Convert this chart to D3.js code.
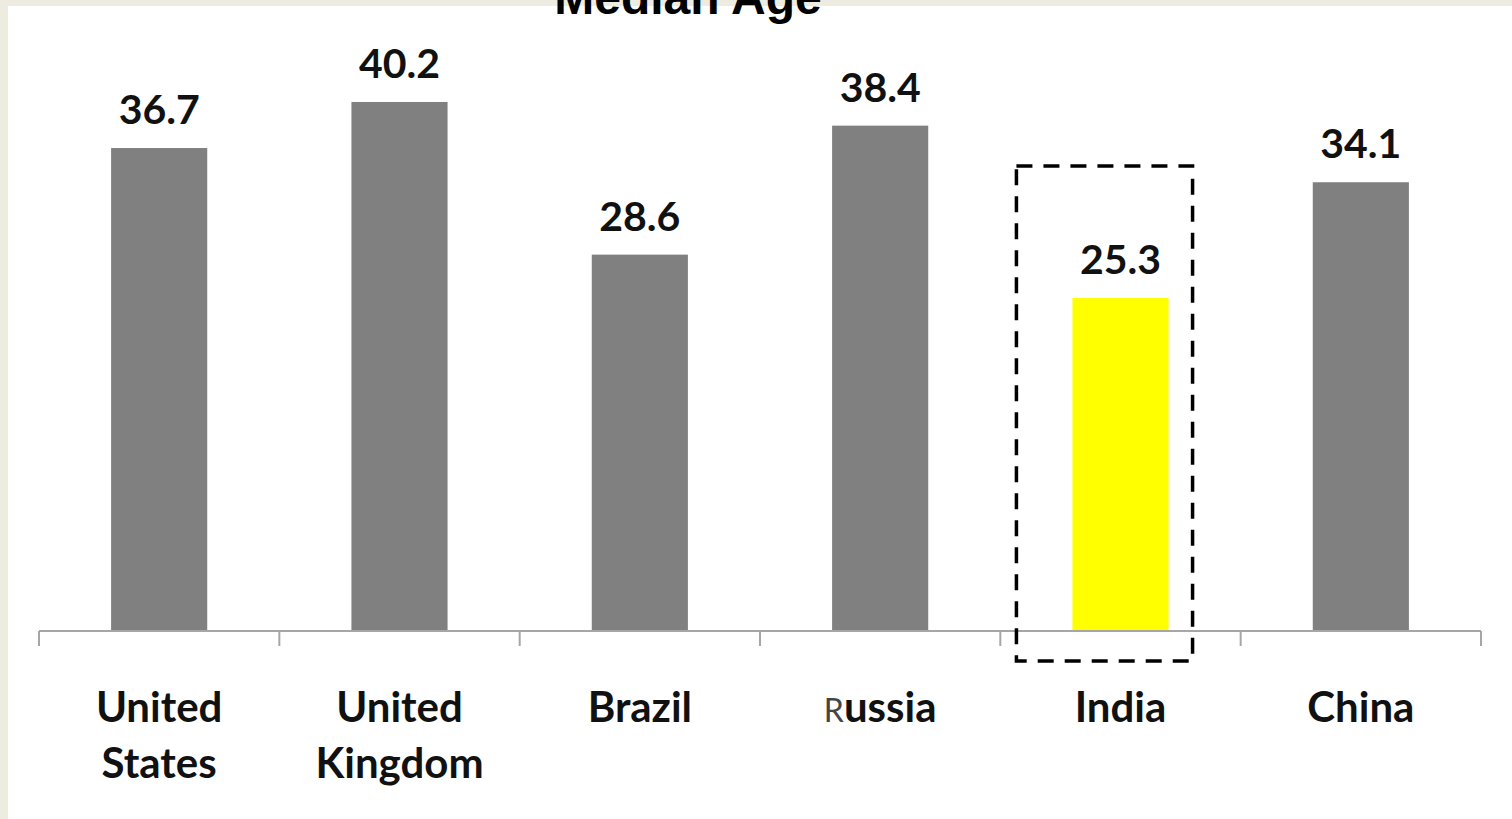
<!DOCTYPE html>
<html>
<head>
<meta charset="utf-8">
<script src="https://cdn.jsdelivr.net/npm/d3@7"></script>
<style>
  html, body { margin: 0; padding: 0; background: #eeebe1; overflow: hidden; }
</style>
</head>
<body>
<div id="chart"></div>
<script>
let countries = ["United States", "United Kingdom", "Brazil", "Russia", "India", "China"]
let labelLines = [["United", "States"], ["United", "Kingdom"], ["Brazil"], ["Russia"], ["India"], ["China"]]
let medianAge = [36.7, 40.2, 28.6, 38.4, 25.3, 34.1]
let highlight = "India"

function config(){
    let width = 1512
    let height = 819
    let svg = d3.select("#chart")
                .append("svg")
                .attr("width", width)
                .attr("height", height)
    // beige frame on the left and top, white panel
    svg.append("rect")
        .attr("x", 0).attr("y", 0)
        .attr("width", width).attr("height", height)
        .style("fill", "#eeebe1")
    svg.append("rect")
        .attr("x", 8).attr("y", 6)
        .attr("width", width - 8).attr("height", height - 6)
        .style("fill", "#ffffff")
    return { width, height, svg }
}

function scales(){
    let xScale = d3.scaleBand()
                .domain(countries)
                .range([39, 1481])
                .paddingInner(0.6)
                .paddingOuter(0.3)
    let yScale = d3.scaleLinear()
                .domain([0, 45])
                .range([631, 631 - 13.16 * 45])
    return { xScale, yScale }
}

function draw(cfg, sc){
    let { svg } = cfg
    let { xScale, yScale } = sc
    let data = countries.map((c, i) => ({ country: c, value: medianAge[i], lines: labelLines[i] }))

    svg.selectAll(".bar")
        .data(data)
        .enter()
        .append("rect")
        .attr("x", d => xScale(d.country))
        .attr("y", d => yScale(d.value))
        .attr("width", xScale.bandwidth())
        .attr("height", d => yScale(0) - yScale(d.value))
        .style("fill", d => d.country == highlight ? "#ffff00" : "#808080")

    svg.selectAll(".val")
        .data(data)
        .enter()
        .append("text")
        .attr("x", d => xScale(d.country) + xScale.bandwidth() / 2)
        .attr("y", d => yScale(d.value) - 24)
        .attr("text-anchor", "middle")
        .style("font-family", "Lato, 'Open Sans', sans-serif")
        .style("font-weight", "bold")
        .style("font-size", "41px")
        .style("fill", "#111")
        .text(d => d.value.toFixed(1))

    // axis line with ticks between categories
    let step = xScale.step()
    let x0 = xScale.range()[0]
    let tickPos = d3.range(countries.length + 1).map(i => x0 + i * step)
    svg.append("line")
        .attr("x1", x0).attr("x2", xScale.range()[1])
        .attr("y1", yScale(0)).attr("y2", yScale(0))
        .style("stroke", "#a6a6a6")
        .style("stroke-width", 2)
    tickPos.forEach(t => {
        svg.append("line")
            .attr("x1", t).attr("x2", t)
            .attr("y1", yScale(0)).attr("y2", yScale(0) + 15)
            .style("stroke", "#a6a6a6")
            .style("stroke-width", 2)
    })

    let labels = svg.selectAll(".cat")
        .data(data)
        .enter()
        .append("text")
        .attr("text-anchor", "middle")
        .style("font-family", "Lato, 'Open Sans', sans-serif")
        .style("font-weight", "bold")
        .style("font-size", "42px")
        .style("fill", "#111")
    labels.each(function(d){
        let t = d3.select(this)
        let cx = xScale(d.country) + xScale.bandwidth() / 2
        d.lines.forEach((line, j) => {
            let ts = t.append("tspan")
                .attr("x", cx)
                .attr("y", 722 + j * 56)
            if (line == "Russia") {
                // first letter looks lighter and smaller in the original
                ts.append("tspan").text("R")
                    .style("font-size", "32px")
                    .style("font-weight", "normal")
                    .style("fill", "#444")
                ts.append("tspan").text("ussia")
            } else {
                ts.text(line)
            }
        })
    })

    // dashed highlight box round India
    let hx = xScale(highlight)
    svg.append("rect")
        .attr("x", hx - 56)
        .attr("y", 166)
        .attr("width", xScale.bandwidth() + 80)
        .attr("height", 495)
        .style("fill", "none")
        .style("stroke", "#000")
        .style("stroke-width", 3.5)
        .style("stroke-dasharray", "16,11")

    svg.append("text")
        .attr("x", 688)
        .attr("y", 14)
        .attr("text-anchor", "middle")
        .style("font-family", "'Liberation Sans', Arial, sans-serif")
        .style("font-weight", "bold")
        .style("font-size", "48px")
        .style("fill", "#000")
        .text("Median Age")
}

let cfg = config()
let sc = scales()
draw(cfg, sc)
</script>
</body>
</html>
